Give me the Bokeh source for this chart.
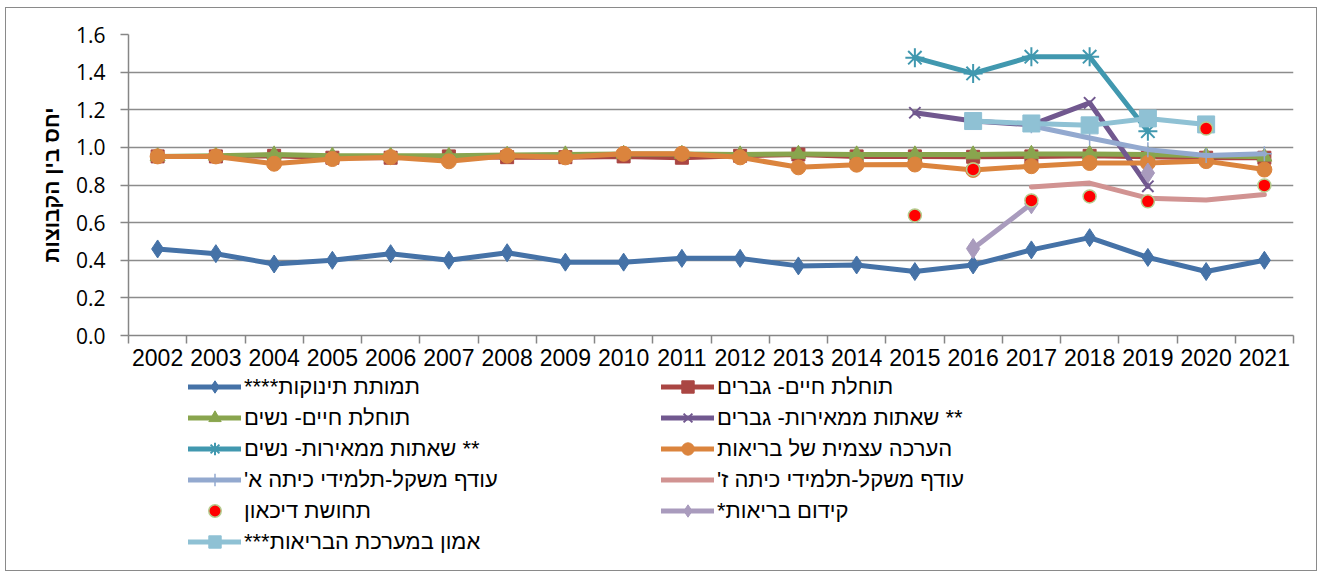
import math
from bokeh.plotting import figure
from bokeh.layouts import column
from bokeh.models import Legend, LegendItem, FixedTicker, NumeralTickFormatter, Range1d
from bokeh.embed import file_html
from bokeh.resources import INLINE

nan = float("nan")

years = ["2002", "2003", "2004", "2005", "2006", "2007", "2008", "2009", "2010", "2011",
         "2012", "2013", "2014", "2015", "2016", "2017", "2018", "2019", "2020", "2021"]

infant_mortality = [0.46, 0.435, 0.38, 0.40, 0.435, 0.40, 0.44, 0.39, 0.39, 0.41,
                    0.41, 0.37, 0.375, 0.34, 0.375, 0.455, 0.52, 0.415, 0.34, 0.40]
life_exp_men = [0.952, 0.952, 0.955, 0.945, 0.945, 0.952, 0.948, 0.948, 0.952, 0.945,
                0.955, 0.962, 0.952, 0.952, 0.950, 0.952, 0.955, 0.950, 0.945, 0.945]
life_exp_women = [0.952, 0.955, 0.962, 0.955, 0.955, 0.955, 0.960, 0.962, 0.965, 0.965,
                  0.962, 0.965, 0.962, 0.962, 0.962, 0.965, 0.965, 0.962, 0.955, 0.950]
cancer_men = [nan] * 13 + [1.184, 1.14, 1.12, 1.237, 0.793, nan, nan]
cancer_women = [nan] * 13 + [1.477, 1.393, 1.482, 1.482, 1.086, nan, nan]
self_rated_health = [0.952, 0.952, 0.913, 0.938, 0.948, 0.926, 0.956, 0.947, 0.966, 0.966,
                     0.947, 0.894, 0.908, 0.909, 0.880, 0.900, 0.917, 0.917, 0.927, 0.882]
overweight_1st = [nan] * 15 + [1.115, 1.05, 0.988, 0.957, 0.966]
overweight_7th = [nan] * 15 + [0.79, 0.81, 0.73, 0.72, 0.75]
depression = [nan] * 13 + [0.638, 0.883, 0.718, 0.739, 0.713, 1.10, 0.798]
health_promotion = [nan] * 14 + [0.462, 0.70, nan, 0.864, nan, nan]
trust_health_system = [nan] * 14 + [1.14, 1.127, 1.117, 1.154, 1.122, nan]

labels = [
    "תמותת תינוקות****",
    "תוחלת חיים- גברים",
    "תוחלת חיים- נשים",
    "** שאתות ממאירות- גברים",
    "** שאתות ממאירות- נשים",
    "הערכה עצמית של בריאות",
    "עודף משקל-תלמידי כיתה א'",
    "עודף משקל-תלמידי כיתה ז'",
    "תחושת דיכאון",
    "קידום בריאות*",
    "אמון במערכת הבריאות***",
]
y_title = "יחס בין הקבוצות"
y_ticks = [0.0, 0.2, 0.4, 0.6, 0.8, 1.0, 1.2, 1.4, 1.6]

RLM = "\u200f"
FONT = "Liberation Sans"

xs = [i + 0.5 for i in range(len(years))]

# style per series: color, marker, size, has line, marker line width, angle
styles = [
    ("#4572A7", "diamond", 18, True, 1, 0),
    ("#AA4643", "square", 13, True, 1, 0),
    ("#89A54E", "triangle", 15, True, 1, 0),
    ("#71588F", "x", 16, True, 2, 0),
    ("#4198AF", "asterisk", 19, True, 2, 0),
    ("#DB843D", "circle", 15, True, 1, 0),
    ("#93A9CF", "cross", 15, True, 1.5, 0),
    ("#D19392", None, 0, True, 1, 0),
    ("#FF0000", "circle", 13, False, 1.5, 0),
    ("#A99BBD", "diamond", 20, True, 1, 0),
    ("#8FC1D4", "square", 17, True, 1, 0),
]
values = [infant_mortality, life_exp_men, life_exp_women, cancer_men, cancer_women,
          self_rated_health, overweight_1st, overweight_7th, depression,
          health_promotion, trust_health_system]


def add_series(fig, x, y, style):
    color, marker, size, has_line, mlw, ang = style
    rs = []
    if has_line:
        rs.append(fig.line(x, y, line_color=color, line_width=5, line_join="round", line_cap="round"))
    if marker is not None:
        if marker in ("x", "asterisk", "cross"):
            rs.append(fig.scatter(x, y, marker=marker, size=size, line_color=color, line_width=mlw))
        elif color == "#FF0000":
            rs.append(fig.scatter(x, y, marker=marker, size=size, fill_color=color,
                                  line_color="#B5CC8E", line_width=mlw))
        else:
            rs.append(fig.scatter(x, y, marker=marker, size=size, angle=ang,
                                  fill_color=color, line_color=color, line_width=mlw))
    return rs


p = figure(frame_width=1165, frame_height=301,
           min_border_left=122, min_border_right=23, min_border_top=26, min_border_bottom=36,
           x_range=Range1d(0, len(years)), y_range=Range1d(0, 1.6),
           output_backend="svg", toolbar_location=None)
p.outline_line_color = None
p.background_fill_color = "white"
p.border_fill_color = "white"

# x axis: labels at category centers, ticks between categories
p.xaxis.ticker = FixedTicker(ticks=xs, minor_ticks=list(range(len(years) + 1)))
p.xaxis.major_label_overrides = {x: y for x, y in zip(xs, years)}
p.xaxis.major_tick_line_color = None
p.xaxis.major_tick_out = 8
p.xaxis.major_tick_in = 0
p.xaxis.minor_tick_line_color = "#868686"
p.xaxis.minor_tick_line_width = 1.5
p.xaxis.minor_tick_out = 8
p.xaxis.minor_tick_in = 0
p.xaxis.major_label_standoff = 5
p.xaxis.major_label_text_font = FONT
p.xaxis.major_label_text_font_size = "23px"
p.xaxis.major_label_text_color = "black"
p.xaxis.axis_line_color = "#868686"
p.xaxis.axis_line_width = 1.5

p.yaxis.ticker = FixedTicker(ticks=y_ticks)
p.yaxis.formatter = NumeralTickFormatter(format="0.0")
p.yaxis.major_tick_line_color = "#868686"
p.yaxis.major_tick_line_width = 1.5
p.yaxis.major_tick_out = 8
p.yaxis.major_tick_in = 0
p.yaxis.minor_tick_line_color = None
p.yaxis.major_label_standoff = 15
p.yaxis.major_label_text_font = "Open Sans"
p.yaxis.major_label_text_font_size = "21px"
p.yaxis.major_label_text_color = "black"
p.yaxis.axis_line_color = "#868686"
p.yaxis.axis_line_width = 1.5
p.yaxis.axis_label = y_title
p.yaxis.axis_label_text_font = FONT
p.yaxis.axis_label_text_font_size = "21px"
p.yaxis.axis_label_text_font_style = "bold"
p.yaxis.axis_label_text_color = "black"
p.yaxis.axis_label_standoff = 10

p.xgrid.visible = False
p.ygrid.grid_line_color = "#8c8c8c"
p.ygrid.grid_line_width = 1.5

draw_order = [0, 1, 2, 3, 4, 5, 6, 7, 9, 10, 8]
for idx in draw_order:
    add_series(p, xs, values[idx], styles[idx])

# legend panel below the chart (same styles; swatch renderers hold no visible points)
LG_H = 199
lg = figure(width=1310, height=LG_H, min_border=0, min_border_left=0, min_border_right=0,
            min_border_top=0, min_border_bottom=0,
            x_range=Range1d(0, 1), y_range=Range1d(0, 1),
            output_backend="svg", toolbar_location=None)
lg.axis.visible = False
lg.grid.visible = False
lg.outline_line_color = None
lg.background_fill_color = "white"
lg.border_fill_color = "white"

items = []
for lab, st in zip(labels, styles):
    rs = add_series(lg, [nan], [nan], st)
    items.append(LegendItem(label=RLM + lab + RLM, renderers=rs))

legend = Legend(items=items, location=(60, 13), ncols=2,
                orientation="horizontal",
                glyph_width=53, glyph_height=31, label_height=25, label_width=417,
                label_standoff=3, spacing=0, padding=0, margin=0,
                label_text_font=FONT, label_text_font_size="22px", label_text_color="black",
                border_line_color=None, background_fill_alpha=0)
lg.add_layout(legend, "center")

layout = column(p, lg, spacing=0,
                styles={"border": "1px solid #8a8a8a", "margin": "7px 0px 0px 5px"})

open("out.html", "w").write(file_html(layout, INLINE))
